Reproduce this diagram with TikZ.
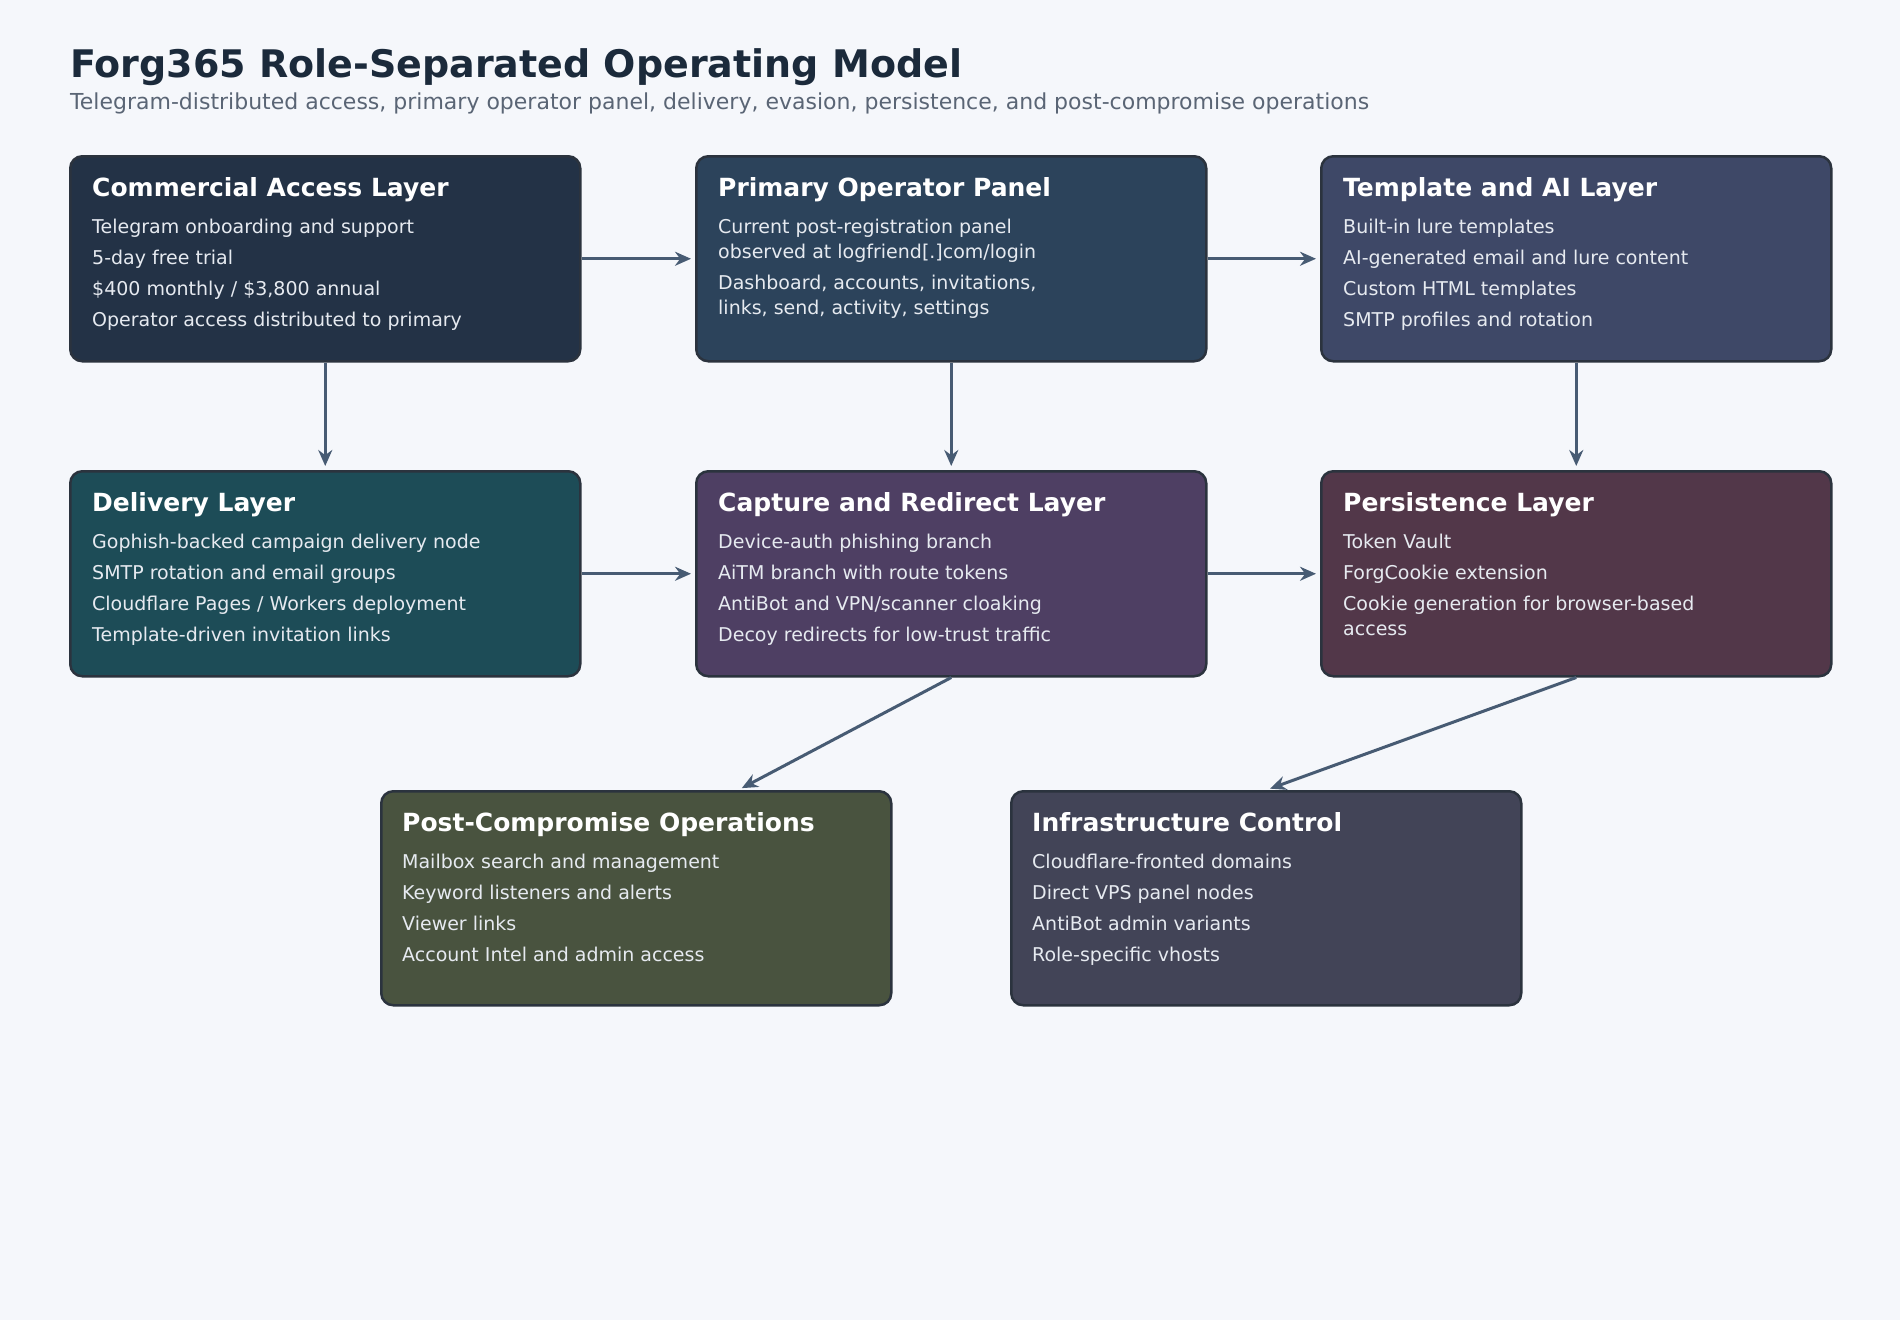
\documentclass[tikz,border=0pt]{standalone}
\usepackage{fontspec}
\setmainfont{DejaVu Sans}
\usetikzlibrary{arrows.meta}
\definecolor{bgc}{HTML}{F5F7FB}
\definecolor{titlec}{HTML}{1B2A3B}
\definecolor{subc}{HTML}{5A6575}
\definecolor{edgec}{HTML}{2B333E}
\definecolor{arrc}{HTML}{475B73}
\definecolor{bodyc}{HTML}{E6EAF0}
\definecolor{accessc}{HTML}{233246}
\definecolor{panelc}{HTML}{2C435B}
\definecolor{templc}{HTML}{3E4867}
\definecolor{delivc}{HTML}{1D4C57}
\definecolor{captc}{HTML}{4E3F63}
\definecolor{persc}{HTML}{523749}
\definecolor{postc}{HTML}{49533F}
\definecolor{infrac}{HTML}{424457}
\begin{document}
\begin{tikzpicture}[x=1pt, y=-1pt,
  box/.style={rectangle, draw=edgec, line width=2.5pt, fill=#1, rounded corners=12pt,
    minimum width=510pt, minimum height=205pt, anchor=north west, inner sep=0pt},
  head/.style={anchor=base west, inner sep=0pt, text=white, font=\fontsize{25}{30}\selectfont\bfseries},
  body/.style={anchor=north west, inner sep=0pt, align=left, text=bodyc, font=\fontsize{19}{25}\selectfont,
    execute at begin node=\rule{0pt}{14pt}},
  arr/.style={-{Stealth[length=16pt, width=14pt]}, line width=3pt, draw=arrc, shorten >=4pt}
]
\fill[bgc] (0,0) rectangle (1900,1320);
\useasboundingbox (0,0) rectangle (1900,1320);

% heading
\node[anchor=base west, inner sep=0pt, text=titlec, font=\fontsize{38}{44}\selectfont\bfseries] (title) at (70,77) {Forg365 Role-Separated Operating Model};
\node[anchor=base west, inner sep=0pt, text=subc, font=\fontsize{22}{26}\selectfont] (subtitle) at (70,109) {Telegram-distributed access, primary operator panel, delivery, evasion, persistence, and post-compromise operations};

% row 1
\node[box=accessc] (access) at (69,155) {};
\node[head] (accessh) at ([shift={(23,41)}]access.north west) {Commercial Access Layer};
\node[body] (accessb) at ([shift={(23,64)}]access.north west) {Telegram onboarding and support\\[6pt]5-day free trial\\[6pt]\$400 monthly / \$3,800 annual\\[6pt]Operator access distributed to primary};

\node[box=panelc] (panel) at (695,155) {};
\node[head] (panelh) at ([shift={(23,41)}]panel.north west) {Primary Operator Panel};
\node[body] (panelb) at ([shift={(23,64)}]panel.north west) {Current post-registration panel\\observed at logfriend[.]com/login\\[6pt]Dashboard, accounts, invitations,\\links, send, activity, settings};

\node[box=templc] (templ) at (1320,155) {};
\node[head] (templh) at ([shift={(23,41)}]templ.north west) {Template and AI Layer};
\node[body] (templb) at ([shift={(23,64)}]templ.north west) {Built-in lure templates\\[6pt]AI-generated email and lure content\\[6pt]Custom HTML templates\\[6pt]SMTP profiles and rotation};

% row 2
\node[box=delivc] (deliv) at (69,470) {};
\node[head] (delivh) at ([shift={(23,41)}]deliv.north west) {Delivery Layer};
\node[body] (delivb) at ([shift={(23,64)}]deliv.north west) {Gophish-backed campaign delivery node\\[6pt]SMTP rotation and email groups\\[6pt]Cloudflare Pages / Workers deployment\\[6pt]Template-driven invitation links};

\node[box=captc] (capt) at (695,470) {};
\node[head] (capth) at ([shift={(23,41)}]capt.north west) {Capture and Redirect Layer};
\node[body] (captb) at ([shift={(23,64)}]capt.north west) {Device-auth phishing branch\\[6pt]AiTM branch with route tokens\\[6pt]AntiBot and VPN/scanner cloaking\\[6pt]Decoy redirects for low-trust traffic};

\node[box=persc] (pers) at (1320,470) {};
\node[head] (persh) at ([shift={(23,41)}]pers.north west) {Persistence Layer};
\node[body] (persb) at ([shift={(23,64)}]pers.north west) {Token Vault\\[6pt]ForgCookie extension\\[6pt]Cookie generation for browser-based\\access};

% row 3
\node[box=postc, minimum height=214pt] (post) at (380,790) {};
\node[head] (posth) at ([shift={(22,41)}]post.north west) {Post-Compromise Operations};
\node[body] (postb) at ([shift={(22,64)}]post.north west) {Mailbox search and management\\[6pt]Keyword listeners and alerts\\[6pt]Viewer links\\[6pt]Account Intel and admin access};

\node[box=infrac, minimum height=214pt] (infra) at (1010,790) {};
\node[head] (infrah) at ([shift={(22,41)}]infra.north west) {Infrastructure Control};
\node[body] (infrab) at ([shift={(22,64)}]infra.north west) {Cloudflare-fronted domains\\[6pt]Direct VPS panel nodes\\[6pt]AntiBot admin variants\\[6pt]Role-specific vhosts};

% connectors
\draw[arr] (access.east) -- (panel.west);
\draw[arr] (panel.east) -- (templ.west);
\draw[arr] (deliv.east) -- (capt.west);
\draw[arr] (capt.east) -- (pers.west);
\draw[arr] (access.south) -- (deliv.north);
\draw[arr] (panel.south) -- (capt.north);
\draw[arr] (templ.south) -- (pers.north);
\draw[arr] (capt.south) -- ([xshift=102pt]post.north);
\draw[arr] (pers.south) -- (infra.north);
\end{tikzpicture}
\end{document}
